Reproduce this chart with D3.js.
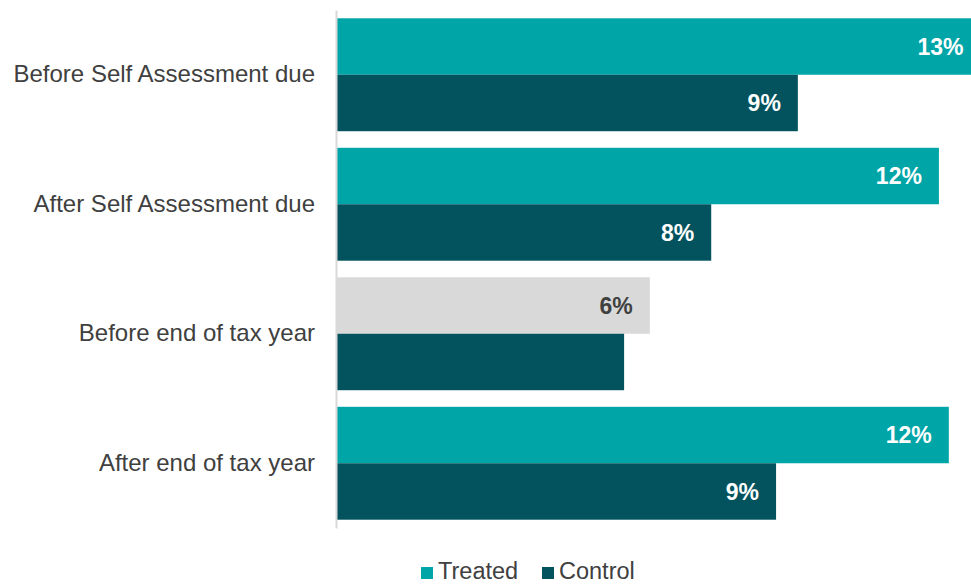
<!DOCTYPE html>
<html>
<head>
<meta charset="utf-8">
<script src="https://cdn.jsdelivr.net/npm/d3@7"></script>
<style>
  html, body { margin: 0; padding: 0; background: #fff; overflow: hidden; }
  svg { display: block; }
</style>
</head>
<body>
<svg id="chart" width="971" height="585"></svg>
<script>
// Share of customers by timing, treated vs control groups
const categories = [
  "Before Self Assessment due",
  "After Self Assessment due",
  "Before end of tax year",
  "After end of tax year"
];
const seriesNames = ["Treated", "Control"];
const treatedValues = [13.0, 12.16, 6.32, 12.36];
const controlValues = [9.31, 7.56, 5.80, 8.87];
// Which bars carry a value label (the non-significant pair is shown in grey)
const treatedLabelled = [true, true, true, true];
const controlLabelled = [true, true, false, true];
const treatedMuted = [false, false, true, false];

const colors = { Treated: "#00A5A8", Control: "#03535E", muted: "#D9D9D9" };
const font = "'Liberation Sans', Arial, sans-serif";

const svg = d3.select("#chart");
const axisX = 336;

const y = d3.scaleBand()
  .domain(categories)
  .range([10, 528])
  .paddingInner(0.128)
  .paddingOuter(0.064);

const ySub = d3.scaleBand()
  .domain(seriesNames)
  .range([0, y.bandwidth()]);

const x = d3.scaleLinear()
  .domain([0, 14])
  .range([axisX + 1, axisX + 1 + 14 * 49.5]);

const rows = categories.map((c, i) => ({
  category: c,
  bars: [
    { series: "Treated", value: treatedValues[i], labelled: treatedLabelled[i], muted: treatedMuted[i] },
    { series: "Control", value: controlValues[i], labelled: controlLabelled[i], muted: false }
  ]
}));

const fmt = v => d3.format(".0f")(v) + "%";

const groups = svg.selectAll("g.row")
  .data(rows)
  .join("g")
  .attr("class", "row")
  .attr("transform", d => `translate(0,${y(d.category)})`);

groups.selectAll("rect")
  .data(d => d.bars)
  .join("rect")
  .attr("x", x(0))
  .attr("y", d => ySub(d.series))
  .attr("width", d => x(d.value) - x(0))
  .attr("height", ySub.bandwidth())
  .attr("fill", d => d.muted ? colors.muted : colors[d.series]);

groups.selectAll("text.value")
  .data(d => d.bars.filter(b => b.labelled))
  .join("text")
  .attr("class", "value")
  .attr("x", d => x(d.value) - 17)
  .attr("y", d => ySub(d.series) + ySub.bandwidth() / 2)
  .attr("dy", "0.36em")
  .attr("text-anchor", "end")
  .attr("font-family", font)
  .attr("font-weight", "bold")
  .attr("font-size", 23)
  .attr("fill", d => d.muted ? "#404040" : "#FFFFFF")
  .text(d => fmt(d.value));

// Category axis
const yAxis = d3.axisLeft(y).tickSize(0).tickPadding(21);
const axisG = svg.append("g")
  .attr("transform", `translate(${axisX},0)`)
  .call(yAxis);
axisG.select(".domain")
  .attr("stroke", "#D9D9D9")
  .attr("stroke-width", 2);
axisG.selectAll(".tick text")
  .attr("font-family", font)
  .attr("font-size", 24)
  .attr("fill", "#404040");

// Legend
const legendItems = [
  { name: "Treated", x: 421 },
  { name: "Control", x: 542 }
];
const legend = svg.append("g");
legend.selectAll("rect")
  .data(legendItems)
  .join("rect")
  .attr("x", d => d.x)
  .attr("y", 567)
  .attr("width", 12)
  .attr("height", 12)
  .attr("fill", d => colors[d.name]);
legend.selectAll("text")
  .data(legendItems)
  .join("text")
  .attr("x", d => d.x + 17)
  .attr("y", 579)
  .attr("font-family", font)
  .attr("font-size", 23.5)
  .attr("fill", "#404040")
  .text(d => d.name);
</script>
</body>
</html>
